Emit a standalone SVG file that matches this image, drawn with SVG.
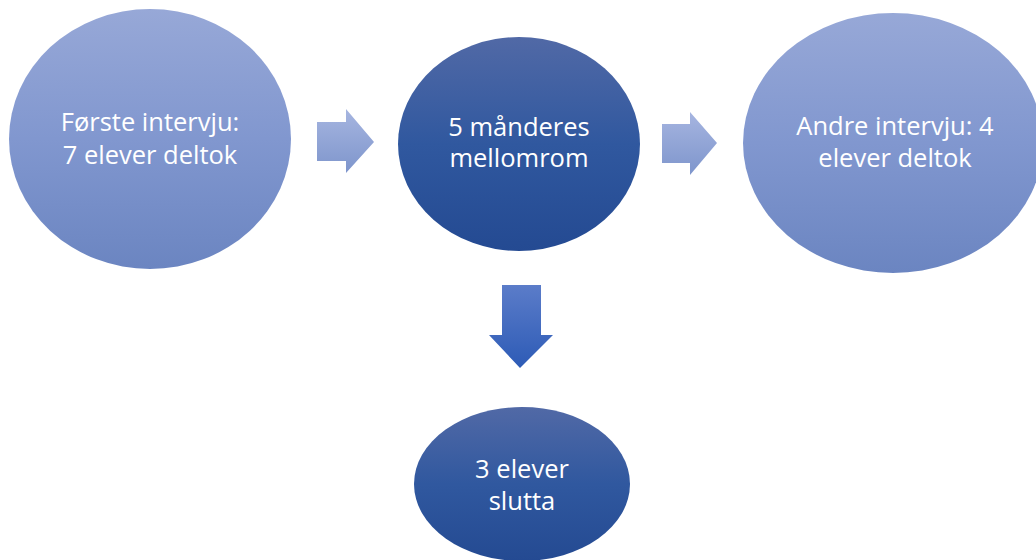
<svg xmlns="http://www.w3.org/2000/svg" width="1036" height="560" viewBox="0 0 1036 560">
<defs>
<linearGradient id="gLight" x1="0" y1="0" x2="0" y2="1">
<stop offset="0" stop-color="#97a8d7"/><stop offset="0.5" stop-color="#8197cf"/><stop offset="1" stop-color="#6b85c1"/>
</linearGradient>
<linearGradient id="gDark" x1="0" y1="0" x2="0" y2="1">
<stop offset="0" stop-color="#5169a6"/><stop offset="0.5" stop-color="#30589f"/><stop offset="1" stop-color="#244a92"/>
</linearGradient>
<linearGradient id="gArrowL" x1="0" y1="0" x2="0" y2="1">
<stop offset="0" stop-color="#a6b5e0"/><stop offset="1" stop-color="#7e95cc"/>
</linearGradient>
<linearGradient id="gArrowD" x1="0" y1="0" x2="0" y2="1">
<stop offset="0" stop-color="#5b7cc9"/><stop offset="1" stop-color="#2d5bb6"/>
</linearGradient>
</defs>
<style>
.t{font-family:"Open Sans","Noto Sans","Liberation Sans",sans-serif;font-size:25.5px;fill:#ffffff;text-anchor:middle}
</style>
<rect width="1036" height="560" fill="#ffffff"/>
<g id="connectors">
<path d="M317,122 H346 V109 L374,142 L346,173 V161 H317 Z" fill="url(#gArrowL)"/>
<path d="M662,124 H690 V112 L717,143 L690,175 V163 H662 Z" fill="url(#gArrowL)"/>
<path d="M502,285 H541 V335 H553 L520,368 L489,335 H502 Z" fill="url(#gArrowD)"/>
</g>
<g id="node1">
<ellipse cx="150" cy="139" rx="141" ry="130" fill="url(#gLight)"/>
<text class="t" x="150" y="131">Første intervju:</text>
<text class="t" x="150" y="164">7 elever deltok</text>
</g>
<g id="node2">
<ellipse cx="519" cy="144" rx="121" ry="107" fill="url(#gDark)"/>
<text class="t" x="519" y="136">5 månderes</text>
<text class="t" x="519" y="167">mellomrom</text>
</g>
<g id="node3">
<ellipse cx="893" cy="143" rx="150" ry="130" fill="url(#gLight)"/>
<text class="t" x="895" y="135">Andre intervju: 4</text>
<text class="t" x="895" y="167">elever deltok</text>
</g>
<g id="node4">
<ellipse cx="522" cy="484" rx="108" ry="77" fill="url(#gDark)"/>
<text class="t" x="522" y="478">3 elever</text>
<text class="t" x="522" y="510">slutta</text>
</g>
</svg>
